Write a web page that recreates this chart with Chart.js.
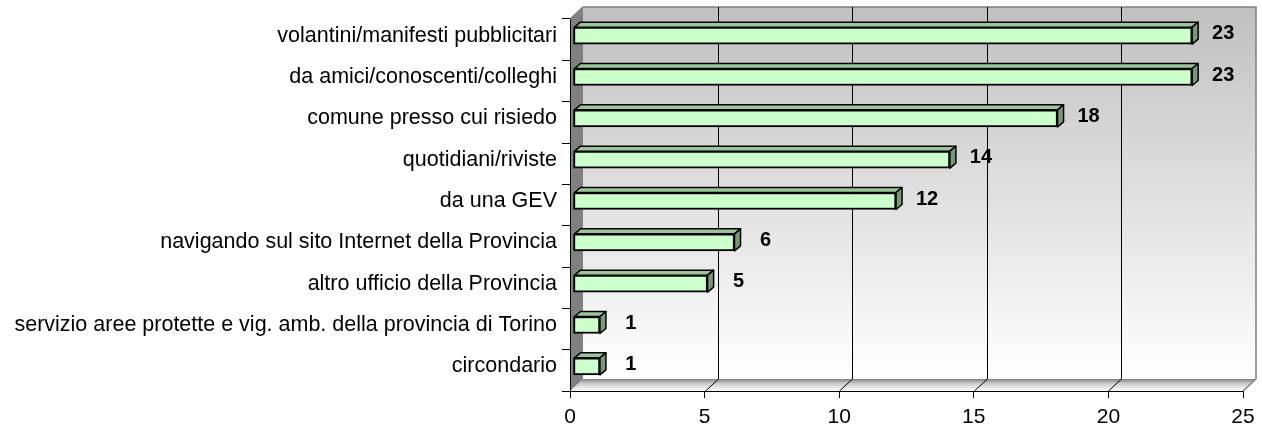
<!DOCTYPE html>
<html lang="it">
<head>
    <meta charset="UTF-8">
    <title>Come è venuto a conoscenza</title>
    <style>
        body, html {
            margin: 0;
            padding: 0;
            background: #ffffff;
        }
        #wrap {
            width: 1262px;
            height: 429px;
            position: relative;
        }
    </style>
    <script src="https://cdn.jsdelivr.net/npm/chart.js"></script>
</head>
<body>
    <div id="wrap"><canvas id="chart"></canvas></div>

    <script>
        // data, top to bottom
        const categories = [
            'volantini/manifesti pubblicitari',
            'da amici/conoscenti/colleghi',
            'comune presso cui risiedo',
            'quotidiani/riviste',
            'da una GEV',
            'navigando sul sito Internet della Provincia',
            'altro ufficio della Provincia',
            'servizio aree protette e vig. amb. della provincia di Torino',
            'circondario'
        ];
        const values = [23, 23, 18, 14, 12, 6, 5, 1, 1];
        const xTicks = [0, 5, 10, 15, 20, 25];

        const FONT = 'Liberation Sans, Arial, sans-serif';
        const DX = 13, DY = 12;     // depth of the walls
        const BX = 6, BY = 5;       // depth of a bar
        const SHIFT_X = 3, SHIFT_Y = -4;

        // walls, floor and the gridlines on the back wall
        const walls = {
            id: 'walls',
            beforeDraw(chart) {
                const { ctx, chartArea: a, scales: { x } } = chart;
                const w = a.right - a.left;
                ctx.save();

                // back wall
                let g = ctx.createLinearGradient(0, a.top - DY, 0, a.bottom - DY);
                g.addColorStop(0, '#c0c0c0');
                g.addColorStop(1, '#ffffff');
                ctx.fillStyle = g;
                ctx.fillRect(a.left + DX, a.top - DY, w, a.bottom - a.top);

                // floor
                g = ctx.createLinearGradient(0, a.bottom - DY, 0, a.bottom);
                g.addColorStop(0, '#808080');
                g.addColorStop(0.35, '#c8c8c8');
                g.addColorStop(1, '#ffffff');
                ctx.fillStyle = g;
                ctx.beginPath();
                ctx.moveTo(a.left, a.bottom);
                ctx.lineTo(a.right, a.bottom);
                ctx.lineTo(a.right + DX, a.bottom - DY);
                ctx.lineTo(a.left + DX, a.bottom - DY);
                ctx.closePath();
                ctx.fill();

                // left wall
                ctx.fillStyle = '#808080';
                ctx.beginPath();
                ctx.moveTo(a.left, a.top);
                ctx.lineTo(a.left + DX, a.top - DY);
                ctx.lineTo(a.left + DX, a.bottom - DY);
                ctx.lineTo(a.left, a.bottom);
                ctx.closePath();
                ctx.fill();

                // outline of the walls
                ctx.strokeStyle = '#808080';
                ctx.lineWidth = 1.5;
                ctx.beginPath();
                ctx.moveTo(a.left, a.top);
                ctx.lineTo(a.left + DX, a.top - DY);
                ctx.lineTo(a.right + DX, a.top - DY);
                ctx.lineTo(a.right + DX, a.bottom - DY);
                ctx.lineTo(a.right, a.bottom);
                ctx.stroke();

                // gridlines
                ctx.strokeStyle = '#000000';
                ctx.lineWidth = 1;
                xTicks.forEach(v => {
                    if (v === x.min || v === x.max) return;
                    const px = Math.round(x.getPixelForValue(v)) + 0.5;
                    ctx.beginPath();
                    ctx.moveTo(px, a.bottom);
                    ctx.lineTo(px + DX, a.bottom - DY);
                    ctx.lineTo(px + DX, a.top - DY);
                    ctx.stroke();
                });
                ctx.restore();
            }
        };

        // bars sit a little behind the front plane: shift them and add top / side faces
        const bars3d = {
            id: 'bars3d',
            beforeDatasetsDraw(chart) {
                chart.ctx.save();
                chart.ctx.translate(SHIFT_X, SHIFT_Y);
            },
            afterDatasetsDraw(chart) {
                const ctx = chart.ctx;
                const meta = chart.getDatasetMeta(0);
                ctx.lineWidth = 1.5;
                ctx.strokeStyle = '#000000';
                ctx.lineJoin = 'round';
                meta.data.forEach((bar, i) => {
                    const x0 = bar.base, x1 = bar.x;
                    const t = bar.y - bar.height / 2, b = bar.y + bar.height / 2;

                    // top face
                    ctx.fillStyle = '#99c799';
                    ctx.beginPath();
                    ctx.moveTo(x0 + 1, t);
                    ctx.lineTo(x0 + 1 + BX, t - BY);
                    ctx.lineTo(x1 + BX, t - BY);
                    ctx.lineTo(x1, t);
                    ctx.closePath();
                    ctx.fill();
                    ctx.stroke();

                    // side face
                    ctx.fillStyle = '#779977';
                    ctx.beginPath();
                    ctx.moveTo(x1, t);
                    ctx.lineTo(x1 + BX, t - BY);
                    ctx.lineTo(x1 + BX, b - BY);
                    ctx.lineTo(x1, b);
                    ctx.closePath();
                    ctx.fill();
                    ctx.stroke();

                    // value label
                    ctx.fillStyle = '#000000';
                    ctx.font = 'bold 20px ' + FONT;
                    ctx.textAlign = 'center';
                    ctx.textBaseline = 'middle';
                    ctx.fillText(values[i], x1 + 31, bar.y - 2);
                });
                ctx.restore();
            }
        };

        const ctx = document.getElementById('chart').getContext('2d');
        new Chart(ctx, {
            type: 'bar',
            data: {
                labels: categories,
                datasets: [{
                    data: values,
                    backgroundColor: '#ccffcc',
                    borderColor: '#000000',
                    borderWidth: 2,
                    borderSkipped: false,
                    barThickness: 17,
                    clip: false
                }]
            },
            options: {
                indexAxis: 'y',
                responsive: true,
                maintainAspectRatio: false,
                animation: false,
                devicePixelRatio: 1,
                layout: {
                    padding: { top: 19, right: 19, left: 0, bottom: 0 }
                },
                plugins: {
                    legend: { display: false },
                    tooltip: { enabled: false }
                },
                scales: {
                    x: {
                        type: 'linear',
                        min: 0,
                        max: 25,
                        afterBuildTicks: s => { s.ticks = xTicks.map(v => ({ value: v })); },
                        afterFit: s => { s.height = 38; },
                        ticks: {
                            color: '#000000',
                            font: { family: FONT, size: 21 },
                            padding: 7,
                            maxRotation: 0
                        },
                        grid: {
                            drawOnChartArea: false,
                            drawTicks: true,
                            tickLength: 7,
                            color: '#000000'
                        },
                        border: { display: true, color: '#000000', width: 1 }
                    },
                    y: {
                        afterFit: s => { s.width = 570; },
                        ticks: {
                            color: '#000000',
                            font: { family: FONT, size: 21.5 },
                            padding: 5,
                            labelOffset: -4,
                            autoSkip: false
                        },
                        grid: {
                            drawOnChartArea: false,
                            drawTicks: true,
                            tickLength: 8,
                            color: '#000000',
                            offset: true
                        },
                        border: { display: true, color: '#000000', width: 1 }
                    }
                }
            },
            plugins: [walls, bars3d]
        });
    </script>
</body>
</html>
